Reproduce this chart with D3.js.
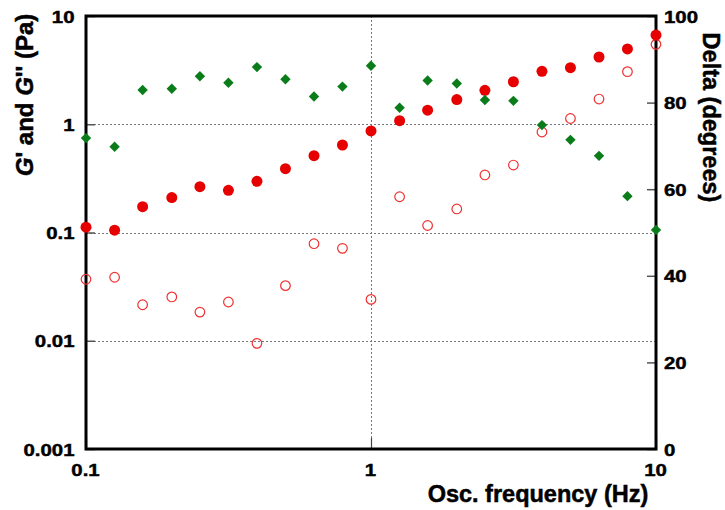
<!DOCTYPE html>
<html>
<head>
<meta charset="utf-8">
<script src="https://cdn.jsdelivr.net/npm/d3@7"></script>
<style>
  html, body { margin: 0; padding: 0; background: #fff; }
  svg text { font-family: "Liberation Sans", Arial, sans-serif; font-weight: bold; fill: #000; }
  .tick text { stroke: #000; stroke-width: 0.45px; }
  .title { stroke: #000; stroke-width: 0.5px; }
</style>
</head>
<body>
<svg id="chart" width="725" height="510"></svg>
<script>
// Oscillation frequency sweep (Hz), 10 points per decade
const frequency = [0.1, 0.126, 0.158, 0.2, 0.251, 0.316, 0.398, 0.501, 0.631, 0.794,
                   1, 1.26, 1.58, 2, 2.51, 3.16, 3.98, 5.01, 6.31, 7.94, 10];

// G'' (Pa), filled circles
const gDoublePrime = [0.112, 0.105, 0.173, 0.210, 0.265, 0.245, 0.297, 0.389, 0.512, 0.643,
                      0.867, 1.08, 1.35, 1.69, 2.06, 2.47, 3.08, 3.33, 4.18, 4.96, 6.67];

// G' (Pa), open circles
const gPrime = [0.0370, 0.0386, 0.0215, 0.0254, 0.0184, 0.0228, 0.00946, 0.0323, 0.0788, 0.0714,
                0.0241, 0.214, 0.116, 0.165, 0.340, 0.420, 0.848, 1.13, 1.71, 3.06, 5.47];

// Phase angle delta (degrees), diamonds on the right axis
const delta = [71.8, 69.8, 82.9, 83.2, 86.1, 84.6, 88.2, 85.4, 81.4, 83.7,
               88.5, 78.8, 85.1, 84.4, 80.6, 80.4, 74.8, 71.4, 67.7, 58.4, 50.6];

const xTicks = [0.1, 1, 10];
const xTickLabels = ["0.1", "1", "10"];
const yTicks = [0.001, 0.01, 0.1, 1, 10];
const yTickLabels = ["0.001", "0.01", "0.1", "1", "10"];
const deltaTicks = [0, 20, 40, 60, 80, 100];

const svg = d3.select("#chart");
const plotLeft = 86, plotRight = 656, plotTop = 16, plotBottom = 449;

const x = d3.scaleLog().domain([0.1, 10]).range([plotLeft, plotRight]);
const y = d3.scaleLog().domain([0.001, 10]).range([plotBottom, plotTop]);
const yd = d3.scaleLinear().domain([0, 100]).range([plotBottom, plotTop]);

// dotted grid lines
const grid = svg.append("g").attr("stroke", "#777").attr("stroke-width", 1)
  .attr("stroke-dasharray", "2,2");
grid.selectAll("line.h").data([0.01, 0.1, 1]).join("line").attr("class", "h")
  .attr("x1", plotLeft).attr("x2", plotRight)
  .attr("y1", d => Math.round(y(d)) + 0.5).attr("y2", d => Math.round(y(d)) + 0.5);
grid.selectAll("line.v").data([1]).join("line").attr("class", "v")
  .attr("x1", d => Math.round(x(d)) + 0.5).attr("x2", d => Math.round(x(d)) + 0.5)
  .attr("y1", plotTop).attr("y2", plotBottom);

// heavy, slightly wide tick labels
function styleTickText(sel, dx, dy, anchor, baseline) {
  sel.attr("font-size", 17).attr("x", 0).attr("y", 0)
    .attr("dy", baseline).attr("text-anchor", anchor)
    .attr("transform", `translate(${dx},${dy}) scale(1.2,1)`);
}

// left axis
const yAxis = d3.axisLeft(y).tickValues(yTicks)
  .tickFormat((d, i) => yTickLabels[i]).tickSizeInner(-9).tickSizeOuter(0);
const gy = svg.append("g").attr("transform", `translate(${plotLeft},0)`).call(yAxis);
gy.select(".domain").remove();
gy.selectAll(".tick line").attr("stroke", "#555").attr("stroke-width", 1.5);
styleTickText(gy.selectAll(".tick text"), -11.5, 0, "end", "0.36em");

// bottom axis
const xAxis = d3.axisBottom(x).tickValues(xTicks)
  .tickFormat((d, i) => xTickLabels[i]).tickSizeInner(-11).tickSizeOuter(0);
const gx = svg.append("g").attr("transform", `translate(0,${plotBottom})`).call(xAxis);
gx.select(".domain").remove();
gx.selectAll(".tick line").attr("stroke", "#444").attr("stroke-width", 1.2);
styleTickText(gx.selectAll(".tick text"), -1, 26.5, "middle", "0");

// right axis (delta)
const dAxis = d3.axisRight(yd).tickValues(deltaTicks)
  .tickSizeInner(-9).tickSizeOuter(0);
const gd = svg.append("g").attr("transform", `translate(${plotRight},0)`).call(dAxis);
gd.select(".domain").remove();
gd.selectAll(".tick line").attr("stroke", "#555").attr("stroke-width", 1.5);
styleTickText(gd.selectAll(".tick text"), 8, 0, "start", "0.36em");

// frame
svg.append("rect").attr("x", plotLeft).attr("y", plotTop)
  .attr("width", plotRight - plotLeft).attr("height", plotBottom - plotTop)
  .attr("fill", "none").attr("stroke", "#000").attr("stroke-width", 3);

// G' open circles
svg.append("g").selectAll("circle").data(frequency).join("circle")
  .attr("cx", d => x(d)).attr("cy", (d, i) => y(gPrime[i])).attr("r", 4.8)
  .attr("fill", "none").attr("stroke", "#f03030").attr("stroke-width", 1.2);

// G'' filled circles
svg.append("g").selectAll("circle").data(frequency).join("circle")
  .attr("cx", d => x(d)).attr("cy", (d, i) => y(gDoublePrime[i])).attr("r", 5.5)
  .attr("fill", "#e60000");

// delta diamonds
const diamond = d3.symbol().type(d3.symbolSquare).size(54);
svg.append("g").selectAll("path").data(frequency).join("path")
  .attr("d", diamond)
  .attr("transform", (d, i) => `translate(${x(d)},${yd(delta[i])}) rotate(45)`)
  .attr("fill", "#0a7d1a");

// axis titles
const yt = svg.append("text").attr("class", "title").attr("font-size", 24)
  .attr("text-anchor", "middle")
  .attr("transform", "translate(32.5,95) rotate(-90)");
yt.append("tspan").attr("font-style", "italic").text("G");
yt.append("tspan").text("' and ");
yt.append("tspan").attr("font-style", "italic").text("G");
yt.append("tspan").text("'' (Pa)");

svg.append("text").attr("class", "title").attr("font-size", 23.5)
  .attr("text-anchor", "middle")
  .attr("transform", "translate(702.5,117.5) rotate(90)")
  .text("Delta (degrees)");

svg.append("text").attr("class", "title").attr("font-size", 23.5)
  .attr("text-anchor", "middle")
  .attr("x", 538).attr("y", 502)
  .text("Osc. frequency (Hz)");
</script>
</body>
</html>
